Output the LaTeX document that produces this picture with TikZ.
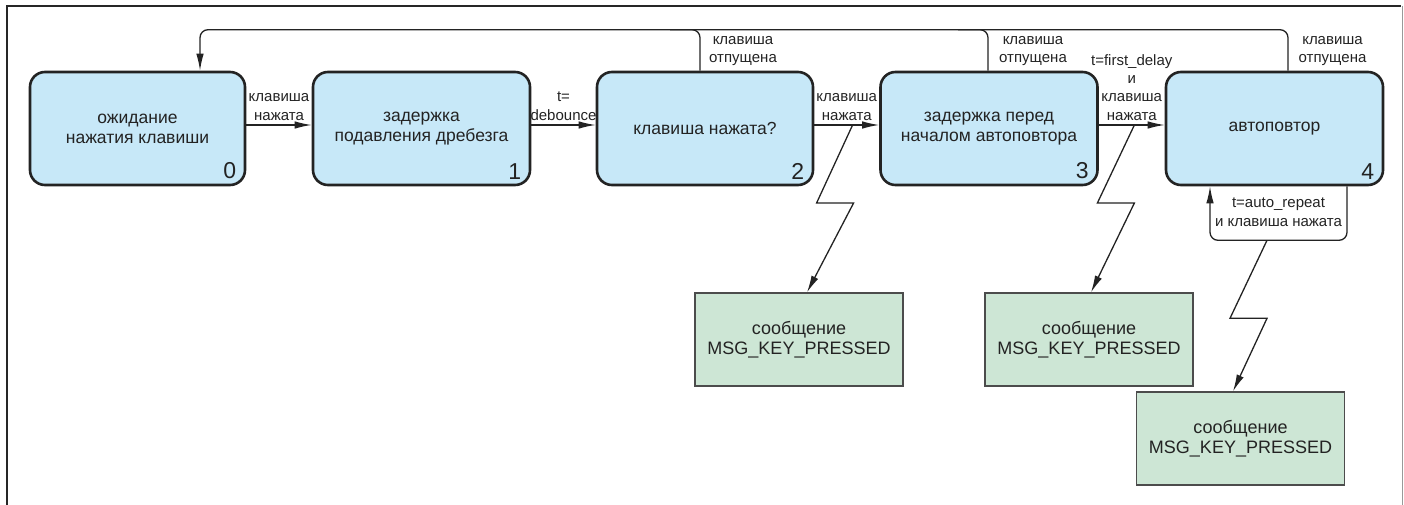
\documentclass[tikz,border=0pt]{standalone}
\usepackage{fontspec}
\setmainfont{Liberation Sans}
\usetikzlibrary{arrows.meta,calc}
\definecolor{stbl}{RGB}{199,232,248}
\definecolor{msgg}{RGB}{205,230,213}
\definecolor{ink}{RGB}{35,35,35}
\tikzset{
  state/.style={draw=ink, line width=2.6pt, fill=stbl, rounded corners=15pt,
    minimum height=113pt, align=center, text=ink, inner sep=0pt,
    font=\fontsize{17.5}{20}\selectfont},
  msgbox/.style={draw=black!70, line width=1.3pt, fill=msgg, minimum width=208pt,
    minimum height=93pt, align=center, text=ink, inner sep=0pt,
    font=\fontsize{18}{20}\selectfont},
  num/.style={anchor=south east, text=ink, inner sep=0pt, font=\fontsize{23}{23}\selectfont},
  conn/.style={draw=ink, line width=1.3pt, -{Latex[length=17pt,width=7.5pt]}},
  plain/.style={draw=ink, line width=1.3pt},
  lbl/.style={align=center, text=ink, inner sep=1pt, font=\fontsize{15}{18.3}\selectfont},
}
\begin{document}
\begin{tikzpicture}[x=1pt,y=-1pt]
\useasboundingbox (0,0) rectangle (1404,505);
% frame
\draw[line width=2pt, black!85] (7,505) -- (7,6) -- (1401,6);
\draw[line width=1pt, black!40] (1402,6) -- (1402,505);

% states
\node[state, minimum width=215pt] (b0) at (137.5,128.5) {ожидание\\нажатия клавиши};
\node[state, minimum width=217pt] (b1) at (421.5,128.5) {задержка\\подавления дребезга};
\node[state, minimum width=216pt] (b2) at (705,128.5) {клавиша нажата?};
\node[state, minimum width=217pt] (b3) at (989,128.5) {задержка перед\\началом автоповтора};
\node[state, minimum width=217pt] (b4) at (1274.5,128.5) {автоповтор};
\node[num] (n0) at ($(b0.south east)+(-10,-7)$) {0};
\node[num] (n1) at ($(b1.south east)+(-10,-7)$) {1};
\node[num] (n2) at ($(b2.south east)+(-10,-7)$) {2};
\node[num] (n3) at ($(b3.south east)+(-10,-7)$) {3};
\node[num] (n4) at ($(b4.south east)+(-10,-7)$) {4};

% messages
\node[msgbox] (g1) at (799,339.5) {сообщение\\MSG\_KEY\_PRESSED};
\node[msgbox] (g2) at (1089,339.5) {сообщение\\MSG\_KEY\_PRESSED};
\node[msgbox] (g3) at (1240.5,438.5) {сообщение\\MSG\_KEY\_PRESSED};

% forward transitions
\draw[conn] ([yshift=3.5pt]b0.east) -- node[lbl, anchor=south, pos=0.5, yshift=3pt] (l01) {клавиша\\нажата} ([yshift=3.5pt]b1.west);
\draw[conn] ([yshift=3.5pt]b1.east) -- node[lbl, anchor=south, pos=0.5, yshift=3pt] (l12) {t=\\debounce} ([yshift=3.5pt]b2.west);
\draw[conn] ([yshift=3.5pt]b2.east) -- coordinate[pos=0.59] (z2) node[lbl, anchor=south, pos=0.5, yshift=3pt] (l23) {клавиша\\нажата} ([yshift=3.5pt]b3.west);
\draw[conn] ([yshift=3.5pt]b3.east) -- coordinate[pos=0.54] (z3) node[lbl, anchor=south, pos=0.5, yshift=3pt] (l34) {t=first\_delay\\и\\клавиша\\нажата} ([yshift=3.5pt]b4.west);

% release -> back to 0
\draw[conn, rounded corners=8pt] ([xshift=13.5pt]b4.north) -- ++(0,-41) -| ([xshift=62.5pt]b0.north);
\draw[plain, rounded corners=8pt] ([xshift=-5pt]b2.north) |- ++(-30,-41);
\draw[plain, rounded corners=8pt] ([xshift=-1pt]b3.north) |- ++(-30,-41);
\node[lbl, anchor=west] (r2) at ([xshift=3pt,yshift=20pt]b2.north) {клавиша\\отпущена};
\node[lbl, anchor=west] (r3) at ([xshift=9pt,yshift=20pt]b3.north) {клавиша\\отпущена};
\node[lbl, anchor=west] (r4) at ([xshift=23pt,yshift=20pt]b4.north) {клавиша\\отпущена};

% auto repeat loop
\draw[conn, rounded corners=8pt] ([xshift=72.5pt]b4.south) -- ++(0,54) -| ([xshift=-64.5pt]b4.south);
\coordinate (z4) at ($(b4.south)+(-7.5,54)$);
\node[lbl] (l44) at ($(b4.south)+(4,26)$) {t=auto\_repeat\\и клавиша нажата};

% lightning arrows
\draw[conn] (z2) -- ++(-36,78) -- ++(37,0) -- ([xshift=8pt]g1.north);
\draw[conn] (z3) -- ++(-37,78) -- ++(37,0) -- ([xshift=2pt]g2.north);
\draw[conn] (z4) -- ++(-37,78) -- ++(37,0) -- ([xshift=-7.5pt]g3.north);
\end{tikzpicture}
\end{document}
